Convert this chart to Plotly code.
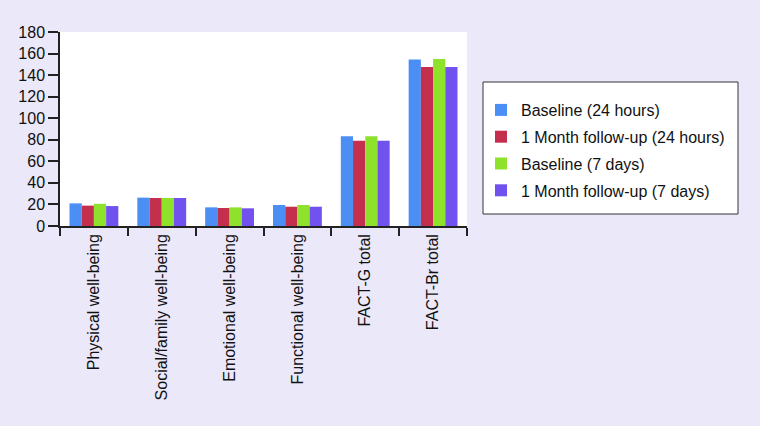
import plotly.graph_objects as go

categories = ["Physical well-being", "Social/family well-being", "Emotional well-being",
              "Functional well-being", "FACT-G total", "FACT-Br total"]
series_names = ["Baseline (24 hours)", "1 Month follow-up (24 hours)",
                "Baseline (7 days)", "1 Month follow-up (7 days)"]
baseline_24h = [21.0, 26.3, 17.3, 19.5, 83.2, 154.6]
followup_24h = [18.9, 26.0, 16.7, 17.9, 79.2, 147.5]
baseline_7d = [20.6, 26.0, 17.3, 19.5, 83.2, 154.9]
followup_7d = [18.5, 26.0, 16.4, 17.9, 79.2, 147.5]
colors = ["#4b8ff5", "#c52f4e", "#8ee22c", "#7152ef"]
y_ticks = [0, 20, 40, 60, 80, 100, 120, 140, 160, 180]

fig = go.Figure()
for i, (name, vals) in enumerate(zip(series_names,
                                     [baseline_24h, followup_24h, baseline_7d, followup_7d])):
    fig.add_trace(go.Bar(x=categories, y=vals, name=name, marker_color=colors[i],
                         marker_line_width=0, legendgroup=str(i)))

FONT = "Liberation Sans, Arial, Helvetica, sans-serif"
L, R, T, B = 60, 293, 32, 200
W, H = 760, 426
pw = W - L - R
ph = H - T - B

fig.update_layout(
    width=W, height=H,
    margin=dict(l=L, r=R, t=T, b=B, pad=0),
    paper_bgcolor="#ebe8fa",
    plot_bgcolor="#ffffff",
    barmode="group",
    bargap=0.28,
    bargroupgap=0,
    font=dict(family=FONT, size=16, color="#111111"),
    showlegend=True,
    legend=dict(
        x=(481 - L) / pw, y=(H - B - 93) / ph, xanchor="left", yanchor="top",
        bgcolor="rgba(0,0,0,0)", borderwidth=0,
        font=dict(family=FONT, size=16, color="#111111"),
        tracegroupgap=3,
    ),
    shapes=[dict(type="rect", xref="paper", yref="paper",
                 x0=(483 - L) / pw, x1=(738 - L) / pw,
                 y0=(H - B - 214) / ph, y1=(H - B - 82) / ph,
                 line=dict(color="#333333", width=1), fillcolor="#ffffff", layer="below")],
)
fig.update_xaxes(
    type="category", showline=True, linecolor="#222222", linewidth=1.5,
    ticks="outside", tickson="boundaries", ticklen=8, tickcolor="#222222", tickwidth=1.5,
    tickangle=-90, showgrid=False, tickfont=dict(size=16),
)
fig.update_yaxes(
    range=[0, 180], tickvals=y_ticks, showline=True, linecolor="#222222", linewidth=1.5,
    ticks="outside", ticklen=10, tickcolor="#222222", tickwidth=1.5,
    showgrid=False, zeroline=False, tickfont=dict(size=16),
)
fig.write_html("out.html", config={"displayModeBar": False},
               post_script="document.body.style.margin='0';document.body.style.background='#ebe8fa';")
